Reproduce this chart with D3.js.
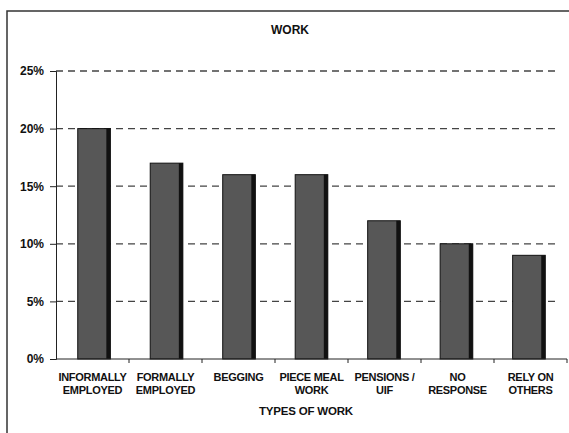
<!DOCTYPE html>
<html>
<head>
<meta charset="utf-8">
<script src="https://cdn.jsdelivr.net/npm/d3@7"></script>
<style>
  body { margin: 0; background: #fff; }
  text { font-family: "Liberation Sans", Arial, sans-serif; font-weight: bold; fill: #111; }
</style>
</head>
<body>
<script>
var categories = [
  ["INFORMALLY", "EMPLOYED"],
  ["FORMALLY", "EMPLOYED"],
  ["BEGGING"],
  ["PIECE MEAL", "WORK"],
  ["PENSIONS /", "UIF"],
  ["NO", "RESPONSE"],
  ["RELY ON", "OTHERS"]
];
var values = [20, 17, 16, 16, 12, 10, 9];
var yTicks = [0, 5, 10, 15, 20, 25];

var width = 569, height = 433;
var margin = { top: 71, right: 2, bottom: 74, left: 56 };

var svg = d3.select("body").append("svg")
  .attr("width", width)
  .attr("height", height);

// frame of the scanned chart
svg.append("path")
  .attr("d", "M7,433 L7,11 L569,11")
  .attr("fill", "none")
  .attr("stroke", "#333")
  .attr("stroke-width", 1.5);

var x = d3.scaleBand()
  .domain(d3.range(categories.length))
  .range([margin.left, width - margin.right])
  .paddingInner(0.55)
  .paddingOuter(0.3);

var band = d3.scaleBand()
  .domain(d3.range(categories.length))
  .range([margin.left, width - margin.right]);

var y = d3.scaleLinear()
  .domain([0, 25])
  .range([height - margin.bottom, margin.top]);

// gridlines
svg.append("g")
  .selectAll("line")
  .data(yTicks.filter(function (d) { return d > 0; }))
  .enter().append("line")
  .attr("x1", margin.left)
  .attr("x2", 557)
  .attr("y1", function (d) { return y(d); })
  .attr("y2", function (d) { return y(d); })
  .attr("stroke", "#444")
  .attr("stroke-width", 1.3)
  .attr("stroke-dasharray", "7,5");

// bars
var bars = svg.append("g").selectAll("g")
  .data(values)
  .enter().append("g");

bars.append("rect")
  .attr("x", function (d, i) { return x(i); })
  .attr("y", function (d) { return y(d); })
  .attr("width", x.bandwidth())
  .attr("height", function (d) { return y(0) - y(d); })
  .attr("fill", "#575757")
  .attr("stroke", "#111")
  .attr("stroke-width", 1);

bars.append("rect")
  .attr("x", function (d, i) { return x(i) + x.bandwidth() - 4; })
  .attr("y", function (d) { return y(d); })
  .attr("width", 4)
  .attr("height", function (d) { return y(0) - y(d); })
  .attr("fill", "#111");

// y axis
var yAxis = d3.axisLeft(y)
  .tickValues(yTicks)
  .tickSize(6)
  .tickFormat(function (d) { return d + "%"; });

var gy = svg.append("g")
  .attr("transform", "translate(" + margin.left + ",0)")
  .call(yAxis);
gy.select(".domain").attr("stroke", "#222");
gy.selectAll(".tick line").attr("stroke", "#222");
gy.selectAll(".tick text")
  .attr("x", -12)
  .style("font-size", "12px")
  .style("font-family", "Liberation Sans, Arial, sans-serif")
  .style("font-weight", "bold")
  .attr("fill", "#111");

// x axis
var gx = svg.append("g")
  .attr("transform", "translate(0," + y(0) + ")");
gx.append("line")
  .attr("x1", margin.left).attr("x2", width - margin.right)
  .attr("stroke", "#222");
gx.selectAll("line.tk")
  .data(d3.range(categories.length))
  .enter().append("line")
  .attr("class", "tk")
  .attr("x1", function (d) { return band(d) + band.bandwidth(); })
  .attr("x2", function (d) { return band(d) + band.bandwidth(); })
  .attr("y1", 0).attr("y2", 4)
  .attr("stroke", "#222");

// category labels
var labels = svg.append("g").selectAll("text")
  .data(categories)
  .enter().append("text")
  .attr("text-anchor", "middle")
  .attr("x", function (d, i) { return band(i) + band.bandwidth() / 2; })
  .attr("y", 381)
  .style("font-size", "11px")
  .style("letter-spacing", "-0.3px");

labels.selectAll("tspan")
  .data(function (d) { return d; })
  .enter().append("tspan")
  .attr("x", function () { return d3.select(this.parentNode).attr("x"); })
  .attr("dy", function (d, i) { return i === 0 ? 0 : 13; })
  .text(function (d) { return d; });

// titles
svg.append("text")
  .attr("x", 290)
  .attr("y", 34)
  .attr("text-anchor", "middle")
  .style("font-size", "12px")
  .text("WORK");

svg.append("text")
  .attr("x", 306)
  .attr("y", 415)
  .attr("text-anchor", "middle")
  .style("font-size", "11.5px")
  .style("letter-spacing", "-0.2px")
  .text("TYPES OF WORK");
</script>
</body>
</html>
